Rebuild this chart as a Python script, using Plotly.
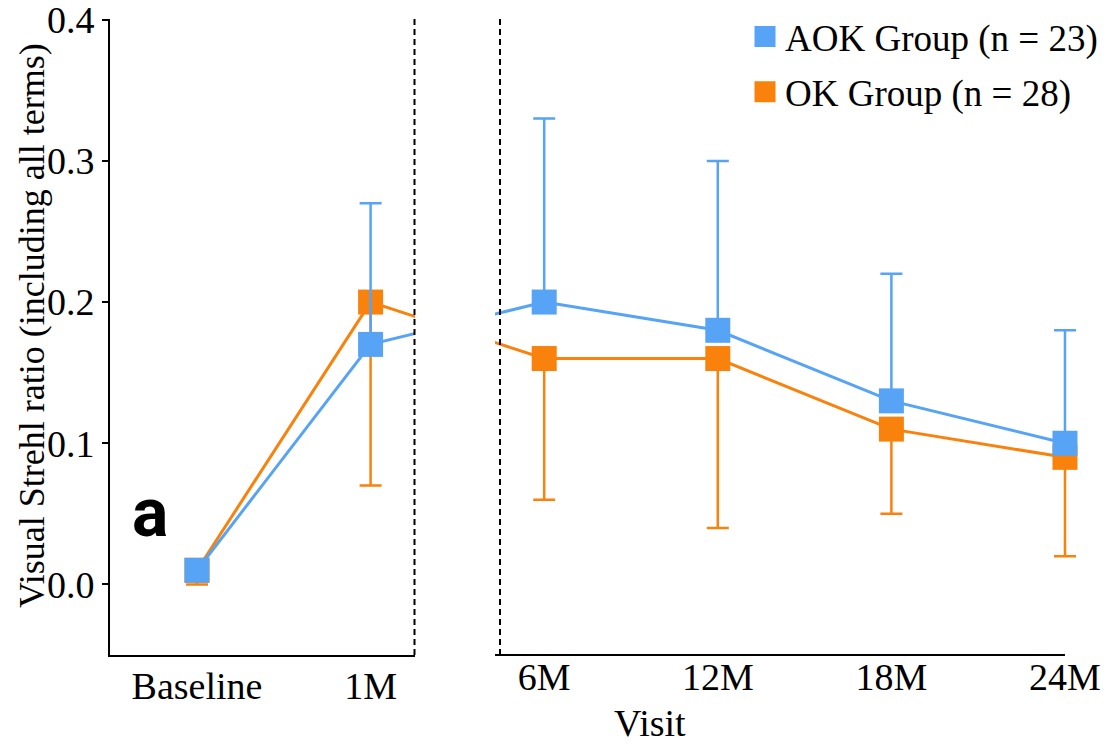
import plotly.graph_objects as go

# ---------------- data ----------------
visits = ["Baseline", "1M", "6M", "12M", "18M", "24M"]
visit_pos = [0, 1, 2, 3, 4, 5]
aok_mean = [0.01, 0.17, 0.20, 0.18, 0.13, 0.10]
aok_err_up = [0.0, 0.10, 0.13, 0.12, 0.09, 0.08]
ok_mean = [0.01, 0.20, 0.16, 0.16, 0.11, 0.09]
ok_err_down = [0.01, 0.13, 0.10, 0.12, 0.06, 0.07]
y_ticks = [0.0, 0.1, 0.2, 0.3, 0.4]

BLUE = "#57A3F6"
ORANGE = "#F9820C"
FONT = "Liberation Serif"
W, H = 1107, 746

def px_x(p):
    return p / W

def px_y(p):
    return 1 - p / H

fig = go.Figure()

# legend entries
fig.add_trace(go.Scatter(x=[None], y=[None], mode="markers", name="AOK Group (n = 23)",
                         legendgroup="aok",
                         marker=dict(symbol="square", size=22, color=BLUE,
                                     line=dict(color=BLUE, width=5))))
fig.add_trace(go.Scatter(x=[None], y=[None], mode="markers", name="OK Group (n = 28)",
                         legendgroup="ok",
                         marker=dict(symbol="square", size=22, color=ORANGE,
                                     line=dict(color=ORANGE, width=5))))

panels = [("x", [0, 1]), ("x2", [2, 3, 4, 5])]
for xa, idx in panels:
    for mean, err, color, up in [(ok_mean, ok_err_down, ORANGE, False),
                                 (aok_mean, aok_err_up, BLUE, True)]:
        # connecting line (all visits, clipped by the panel)
        fig.add_trace(go.Scatter(x=visit_pos, y=mean, mode="lines", xaxis=xa, yaxis="y",
                                 line=dict(color=color, width=3), showlegend=False,
                                 hoverinfo="skip"))
        xs = [visit_pos[i] for i in idx]
        ys = [mean[i] for i in idx]
        es = [err[i] for i in idx]
        zeros = [0] * len(idx)
        fig.add_trace(go.Scatter(
            x=xs, y=ys, mode="markers", xaxis=xa, yaxis="y", showlegend=False,
            cliponaxis=False,
            marker=dict(symbol="square", size=25, color=color, line=dict(width=0)),
            error_y=dict(type="data", symmetric=False,
                         array=es if up else zeros,
                         arrayminus=zeros if up else es,
                         color=color, thickness=2.5, width=11)))

axis_common = dict(linecolor="black", linewidth=2, ticks="", automargin=False,
                   showgrid=False, zeroline=False, ticklabelstandoff=-4,
                   tickfont=dict(family=FONT, size=38, color="black"))

fig.update_layout(
    template="none",
    width=W, height=H, autosize=False,
    margin=dict(l=0, r=0, t=0, b=0, pad=0),
    paper_bgcolor="white", plot_bgcolor="white",
    xaxis=dict(domain=[px_x(110), px_x(415)], range=[-0.501, 1.2558], showline=True,
               tickvals=visit_pos[:2], ticktext=visits[:2], anchor="y", **axis_common),
    xaxis2=dict(domain=[px_x(495), px_x(1078)], range=[1.7166, 5.075], showline=False,
                tickvals=visit_pos[2:], ticktext=visits[2:], anchor="y", **axis_common),
    yaxis=dict(domain=[px_y(655), px_y(19)], range=[-0.05, 0.4005], anchor="x",
               tickvals=y_ticks, ticktext=[f"{v:.1f}" for v in y_ticks],
               showline=True, linecolor="black", linewidth=2, automargin=False,
               ticks="outside", ticklen=6, tickwidth=2, tickcolor="black",
               ticklabeloverflow="allow",
               showgrid=False, zeroline=False,
               tickfont=dict(family=FONT, size=38, color="black")),
    showlegend=True,
    legend=dict(x=px_x(745), y=px_y(6), xanchor="left", yanchor="top",
                font=dict(family=FONT, size=37, color="black"),
                bgcolor="rgba(0,0,0,0)", borderwidth=0,
                tracegroupgap=4, itemsizing="trace"),
    shapes=[
        # right panel axis baseline (ends at the last visit)
        dict(type="line", xref="x2 domain", yref="paper",
             x0=0, x1=(5.0 - 1.7166) / (5.075 - 1.7166), y0=px_y(655), y1=px_y(655),
             line=dict(color="black", width=2)),
        dict(type="line", xref="paper", yref="paper",
             x0=px_x(414.5), x1=px_x(414.5), y0=px_y(19), y1=px_y(655),
             line=dict(color="black", width=2, dash="6px,4px")),
        dict(type="line", xref="paper", yref="paper",
             x0=px_x(500), x1=px_x(500), y0=px_y(19), y1=px_y(655),
             line=dict(color="black", width=2, dash="6px,4px")),
    ],
    annotations=[
        dict(text="Visit", x=px_x(650), y=px_y(723), xref="paper", yref="paper",
             showarrow=False, xanchor="center", yanchor="middle",
             font=dict(family=FONT, size=38, color="black")),
        dict(text="Visual Strehl ratio (including all terms)", x=px_x(32), y=px_y(326),
             xref="paper", yref="paper", showarrow=False, textangle=-90,
             xanchor="center", yanchor="middle",
             font=dict(family=FONT, size=36, color="black")),
        dict(text="<b>a</b>", x=px_x(150), y=px_y(513), xref="paper", yref="paper",
             showarrow=False, xanchor="center", yanchor="middle",
             font=dict(family="Roboto", size=68, color="black")),
    ],
)

fig.write_html(
    "out.html",
    config={"responsive": False, "displayModeBar": False},
    post_script="document.body.style.margin='0';document.body.style.overflow='hidden';",
)
